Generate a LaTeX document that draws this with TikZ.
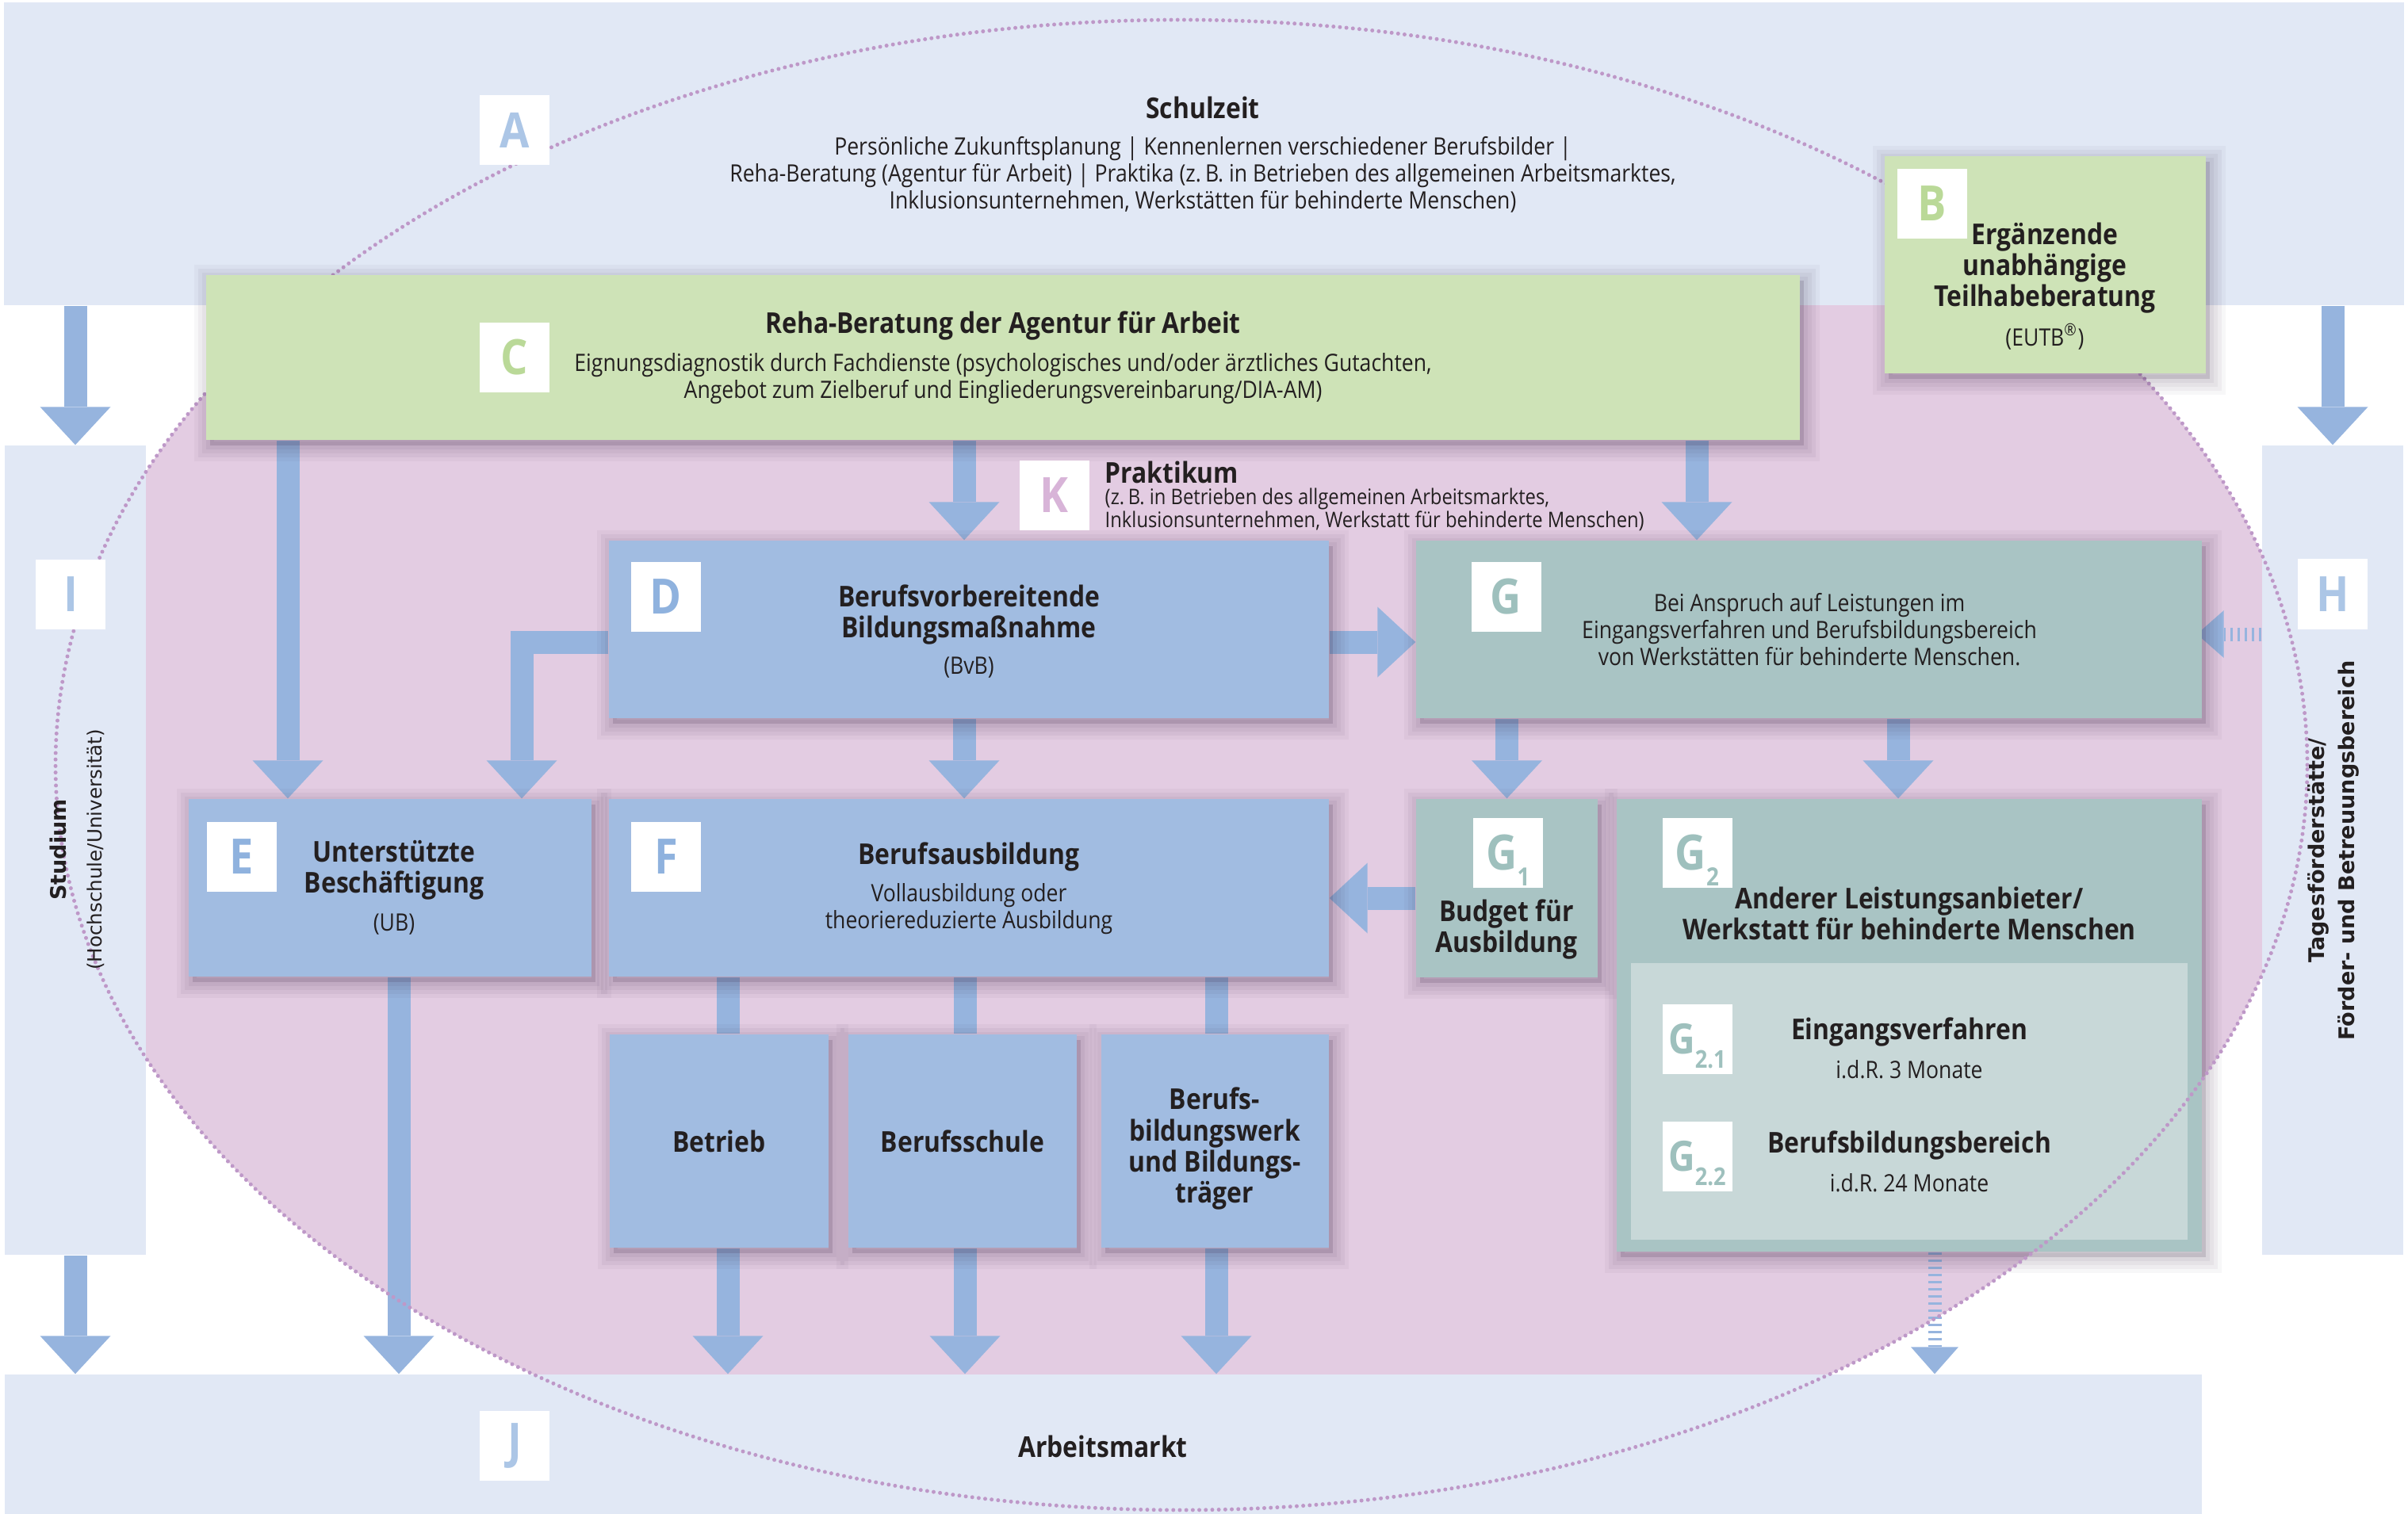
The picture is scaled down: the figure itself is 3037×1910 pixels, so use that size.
\documentclass[tikz,border=0pt]{standalone}
\usepackage{fontspec}
\setmainfont{Open Sans}[FakeStretch=0.88]
\newfontfamily\rotfont{DejaVu Sans}
\usetikzlibrary{arrows.meta,shadows}

\definecolor{bandblue}{RGB}{225,232,245}
\definecolor{ovalpink}{RGB}{227,204,226}
\definecolor{boxblue}{RGB}{161,188,225}
\definecolor{arrowblue}{RGB}{150,180,222}
\definecolor{boxgreen}{RGB}{206,227,183}
\definecolor{boxteal}{RGB}{169,196,196}
\definecolor{innerteal}{RGB}{200,216,216}
\definecolor{dotpurple}{RGB}{190,152,200}
\definecolor{shadowcol}{RGB}{60,40,70}
\definecolor{letterblue}{RGB}{143,178,222}
\definecolor{letterpale}{RGB}{172,198,230}
\definecolor{lettergreen}{RGB}{186,217,152}
\definecolor{letterpink}{RGB}{216,180,216}
\definecolor{letterteal}{RGB}{158,192,189}
\definecolor{ink}{RGB}{35,31,32}

\newcommand{\titlefont}{\fontsize{10.3}{11.1}\selectfont\bfseries}
\newcommand{\bodyfont}{\fontsize{8.6}{9.7}\selectfont}
\newcommand{\smallfont}{\fontsize{7.7}{8.25}\selectfont}
\newcommand{\letterfont}{\fontsize{17.5}{17.5}\selectfont\bfseries}

\pgfdeclarelayer{back}
\pgfdeclarelayer{flows}
\pgfdeclarelayer{dots}
\pgfdeclarelayer{front}
\pgfsetlayers{back,flows,main,dots,front}

\begin{document}
\begin{tikzpicture}[x=0.1mm,y=-0.1mm,
  every node/.style={inner sep=0pt,text=ink},
  band/.style={fill=bandblue},
  shade box/.style={
    general shadow={draw=shadowcol,line width=4mm,opacity=.04,shadow xshift=.5mm,shadow yshift=-.7mm},
    general shadow={draw=shadowcol,line width=3mm,opacity=.05,shadow xshift=.5mm,shadow yshift=-.7mm},
    general shadow={draw=shadowcol,line width=2mm,opacity=.05,shadow xshift=.5mm,shadow yshift=-.7mm},
    general shadow={draw=shadowcol,line width=1mm,opacity=.06,shadow xshift=.5mm,shadow yshift=-.7mm},
    general shadow={fill=shadowcol,opacity=.16,shadow xshift=.5mm,shadow yshift=-.7mm}},
  bluebox/.style={fill=boxblue,shade box},
  greenbox/.style={fill=boxgreen,shade box},
  tealbox/.style={fill=boxteal,shade box},
  letterbox/.style={fill=white,minimum width=8.8mm,minimum height=8.8mm,font=\letterfont},
  flow/.style={draw=arrowblue,line width=2.9mm,-{Triangle[width=8.9mm,length=4.8mm,line width=0pt]}},
  link/.style={draw=arrowblue,line width=2.9mm},
  dashflow/.style={draw=arrowblue,line width=1.7mm,dash pattern=on 0.33mm off 0.57mm,-{Triangle[width=6mm,length=3.4mm,line width=0pt]}},
  dotline/.style={draw=dotpurple,line width=0.5mm,line cap=round,dash pattern=on 0pt off 0.82mm},
  headtext/.style={font=\titlefont,align=center},
  bodytext/.style={font=\bodyfont,align=center},
  rottext/.style={rotate=90,font=\rotfont\fontsize{7.7}{9}\selectfont\bfseries}]
\useasboundingbox (0,0) rectangle (3037,1910);

% oval and bands
\begin{pgfonlayer}{back}
\fill[ovalpink] (1490,965) ellipse [x radius=142mm, y radius=94mm];
\node[band,minimum width=302.7mm,minimum height=38.2mm] (a) at (1518.5,194) {};
\node[band,minimum width=17.8mm,minimum height=102.1mm] (i) at (95,1072.5) {};
\node[band,minimum width=17.8mm,minimum height=102.1mm] (h) at (2942,1072.5) {};
\node[band,minimum width=277.1mm,minimum height=17.6mm] (j) at (1391.5,1822) {};
\end{pgfonlayer}

% boxes
\node[bluebox,minimum width=90.8mm,minimum height=22.4mm] (d) at (1222,794) {};
\node[bluebox,minimum width=50.8mm,minimum height=22.4mm] (e) at (492,1120) {};
\node[bluebox,minimum width=90.8mm,minimum height=22.4mm] (f) at (1222,1120) {};
\node[tealbox,minimum width=99.1mm,minimum height=22.4mm] (g) at (2281.5,794) {};
\node[tealbox,minimum width=22.9mm,minimum height=22.5mm] (g1) at (1900.5,1120.5) {};
\node[tealbox,minimum width=73.8mm,minimum height=57.1mm] (g2) at (2408,1293.5) {};
\node[fill=innerteal,minimum width=70.2mm,minimum height=34.9mm] (g2in) at (2408,1389.5) {};
\node[bluebox,minimum width=27.6mm,minimum height=26.9mm] (betrieb) at (907,1439.5) {};
\node[bluebox,minimum width=28.8mm,minimum height=26.9mm] (schule) at (1214,1439.5) {};
\node[bluebox,minimum width=28.7mm,minimum height=26.9mm] (bbw) at (1532.5,1439.5) {};

\begin{pgfonlayer}{front}
\node[greenbox,minimum width=201mm,minimum height=20.8mm] (c) at (1265,451) {};
\node[greenbox,minimum width=40.5mm,minimum height=27.4mm] (b) at (2579.5,334) {};
\end{pgfonlayer}

% arrows
\begin{pgfonlayer}{flows}
\draw[flow] (a.south -| i.north) -- (i.north);
\draw[flow] (a.south -| h.north) -- (h.north);
\draw[flow] (i.south) -- (i.south |- j.north);
\draw[flow] (363,0 |- c.south) -- (363,0 |- e.north);
\draw[flow] (1216,0 |- c.south) -- (1216,0 |- d.north);
\draw[flow] (2140,0 |- c.south) -- (2140,0 |- g.north);
\draw[flow] (d.east |- 0,810) -- (g.west |- 0,810);
\draw[flow] (d.west |- 0,810) -| (658,0 |- e.north);
\draw[flow] (1216,0 |- d.south) -- (1216,0 |- f.north);
\draw[flow] (g.south -| g1.north) -- (g1.north);
\draw[flow] (2394,0 |- g.south) -- (2394,0 |- g2.north);
\draw[flow] (g1.west |- 0,1133) -- (f.east |- 0,1133);
\draw[link] (918,0 |- f.south) -- (918,0 |- betrieb.north);
\draw[link] (1217,0 |- f.south) -- (1217,0 |- schule.north);
\draw[link] (1534,0 |- f.south) -- (1534,0 |- bbw.north);
\draw[flow] (503,0 |- e.south) -- (503,0 |- j.north);
\draw[flow] (918,0 |- betrieb.south) -- (918,0 |- j.north);
\draw[flow] (1217,0 |- schule.south) -- (1217,0 |- j.north);
\draw[flow] (1534,0 |- bbw.south) -- (1534,0 |- j.north);
\draw[dashflow] (2440,0 |- g2.south) -- (2440,0 |- j.north);
\draw[dashflow,shorten >=-0.7mm] (h.west |- 0,800) -- (g.east |- 0,800);
\end{pgfonlayer}

\begin{pgfonlayer}{dots}
\draw[dotline] (1490,965) ellipse [x radius=142mm, y radius=94mm];
\end{pgfonlayer}

% letters and texts
\begin{pgfonlayer}{front}
\node[letterbox,text=letterpale] (la) at (649,164) {A};
\node[letterbox,text=lettergreen] (lb) at (2437,257) {B};
\node[letterbox,text=lettergreen] (lc) at (649,451) {C};
\node[letterbox,text=letterblue] (ld) at (840,752.5) {D};
\node[letterbox,text=letterblue] (le) at (305,1081) {E};
\node[letterbox,text=letterblue] (lf) at (840,1081) {F};
\node[letterbox,text=letterteal] (lg) at (1899.5,752.5) {G};
\node[letterbox,text=letterteal,text depth=0pt] (lgone) at (1902,1075.5) {G\raisebox{-2mm}{\fontsize{9}{9}\selectfont 1}};
\node[letterbox,text=letterteal,text depth=0pt] (lgtwo) at (2140.5,1075.5) {G\raisebox{-2mm}{\fontsize{9}{9}\selectfont 2}};
\node[letterbox,text=letterteal,text depth=0pt] (lgtwoone) at (2140.5,1310.5) {\fontsize{15}{15}\selectfont G\raisebox{-1.8mm}{\fontsize{8.8}{8.8}\selectfont 2.1}};
\node[letterbox,text=letterteal,text depth=0pt] (lgtwotwo) at (2140.5,1458.5) {\fontsize{15}{15}\selectfont G\raisebox{-1.8mm}{\fontsize{8.8}{8.8}\selectfont 2.2}};
\node[letterbox,text=letterpale] (lh) at (2942,749.5) {H};
\node[letterbox,text=letterpale] (li) at (89,750) {I};
\node[letterbox,text=letterpale] (lj) at (649,1823.5) {J};
\node[letterbox,text=letterpink] (lk) at (1329.5,625) {K};

\node[headtext] (tschule) at (1517,136) {Schulzeit};
\node[bodytext] (tschulesub) at (1517,220) {Persönliche Zukunftsplanung | Kennenlernen verschiedener Berufsbilder |\\Reha-Beratung (Agentur für Arbeit) | Praktika (z.\,B. in Betrieben des allgemeinen Arbeitsmarktes,\\Inklusionsunternehmen, Werkstätten für behinderte Menschen)};
\node[headtext] (tb) at (2579,338) {Ergänzende\\unabhängige\\Teilhabeberatung};
\node[bodytext] (tbsub) at (2579,425) {(EUTB\textsuperscript{®})};
\node[headtext] (tc) at (1265,411) {Reha-Beratung der Agentur für Arbeit};
\node[bodytext] (tcsub) at (1265,477.5) {Eignungsdiagnostik durch Fachdienste (psychologisches und/oder ärztliches Gutachten,\\Angebot zum Zielberuf und Eingliederungsvereinbarung/DIA-AM)};
\node[headtext,anchor=west] (tk) at (1393,596) {Praktikum};
\node[font=\smallfont,align=left,anchor=west] (tksub) at (1393,642.5) {(z.\,B. in Betrieben des allgemeinen Arbeitsmarktes,\\Inklusionsunternehmen, Werkstatt für behinderte Menschen)};
\node[headtext] (td) at (1222,775.5) {Berufsvorbereitende\\Bildungsmaßnahme};
\node[bodytext] (tdsub) at (1222,842) {(BvB)};
\node[bodytext] (tg) at (2282,794.5) {Bei Anspruch auf Leistungen im\\Eingangsverfahren und Berufsbildungsbereich\\von Werkstätten für behinderte Menschen.};
\node[headtext] (te) at (497,1098) {Unterstützte\\Beschäftigung};
\node[bodytext] (tesub) at (497,1166) {(UB)};
\node[headtext] (tf) at (1222,1081) {Berufsausbildung};
\node[bodytext] (tfsub) at (1222,1147) {Vollausbildung oder\\theoriereduzierte Ausbildung};
\node[headtext] (tgone) at (1900,1172) {Budget für\\Ausbildung};
\node[headtext] (tgtwo) at (2408,1152) {Anderer Leistungsanbieter/\\Werkstatt für behinderte Menschen};
\node[headtext] (tgtwoone) at (2408,1302) {Eingangsverfahren};
\node[bodytext] (tgtwoonesub) at (2408,1349) {i.d.R. 3 Monate};
\node[headtext] (tgtwotwo) at (2408,1445) {Berufsbildungsbereich};
\node[bodytext] (tgtwotwosub) at (2408,1492) {i.d.R. 24 Monate};
\node[headtext] (tbetrieb) at (907,1440) {Betrieb};
\node[headtext] (tschule2) at (1214,1440) {Berufsschule};
\node[headtext] (tbbw) at (1532,1449) {Berufs-\\bildungswerk\\und Bildungs-\\träger};
\node[headtext] (tj) at (1391,1825) {Arbeitsmarkt};
\node[rottext] (ti) at (73,1072) {Studium};
\node[rottext,font=\rotfont\fontsize{7}{8}\selectfont] (tisub) at (121,1072) {(Hochschule/Universität)};
\node[rottext] (th) at (2924,1073) {Tagesförderstätte/};
\node[rottext] (thsub) at (2962,1073) {Förder- und Betreuungsbereich};
\end{pgfonlayer}
\end{tikzpicture}
\end{document}
